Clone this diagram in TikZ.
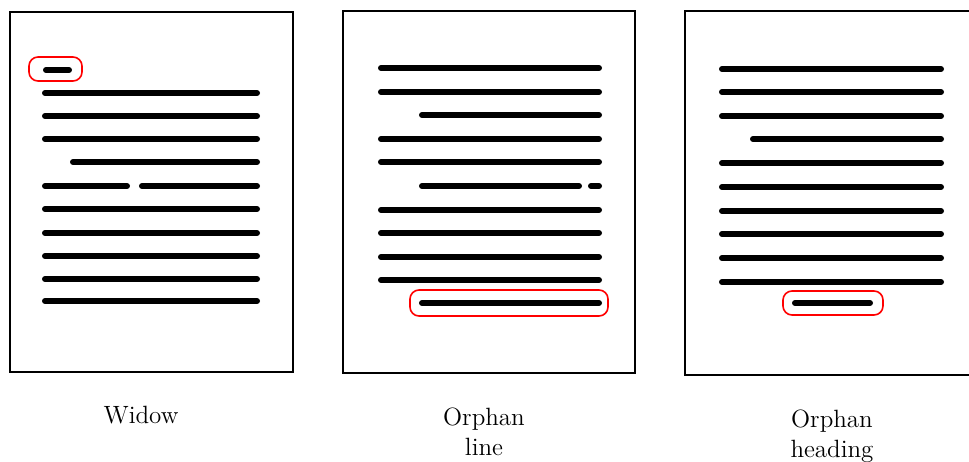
\documentclass[tikz,border=0pt]{standalone}
\usepackage{xcolor}
\usepackage{tikz}

\begin{document}
\begin{tikzpicture}[x=0.5pt, y=-0.5pt,
	pagina/.style={draw=black, line width=1pt},
	riga/.style={line width=3pt, line cap=round},
	evidenza/.style={draw=red, line width=0.8pt, rounded corners=4.5pt},
	didascalia/.style={font=\fontsize{12.5}{15}\selectfont, align=center, anchor=base, inner sep=0pt}]

	\useasboundingbox (0,0) rectangle (969,461);
	\clip (0,0) rectangle (969,461);

	% pagine
	\draw[pagina] (10,12) rectangle (293,372);
	\draw[pagina] (343,11) rectangle (635,373);
	\draw[pagina] (685,11) rectangle (990,375);

	% widow
	\draw[riga] (46,70) -- (69,70);
	\draw[evidenza] (29,57) rectangle (82,81);
	\draw[riga] (45,93) -- (257,93);
	\draw[riga] (45,116) -- (257,116);
	\draw[riga] (45,139) -- (257,139);
	\draw[riga] (73,162) -- (257,162);
	\draw[riga] (45,186) -- (127,186);
	\draw[riga] (142,186) -- (257,186);
	\draw[riga] (45,209) -- (257,209);
	\draw[riga] (45,233) -- (257,233);
	\draw[riga] (45,256) -- (257,256);
	\draw[riga] (45,279) -- (257,279);
	\draw[riga] (45,301) -- (257,301);

	% orphan line
	\draw[riga] (381,68) -- (599,68);
	\draw[riga] (381,92) -- (599,92);
	\draw[riga] (422,115) -- (599,115);
	\draw[riga] (381,139) -- (599,139);
	\draw[riga] (381,162) -- (599,162);
	\draw[riga] (422,186) -- (579,186);
	\draw[riga] (591,186) -- (599,186);
	\draw[riga] (381,210) -- (599,210);
	\draw[riga] (381,233) -- (599,233);
	\draw[riga] (381,257) -- (599,257);
	\draw[riga] (381,280) -- (599,280);
	\draw[riga] (422,303) -- (599,303);
	\draw[evidenza] (410,290) rectangle (608,316);

	% orphan heading
	\draw[riga] (722,69) -- (941,69);
	\draw[riga] (722,92) -- (941,92);
	\draw[riga] (722,116) -- (941,116);
	\draw[riga] (753,139) -- (941,139);
	\draw[riga] (722,163) -- (941,163);
	\draw[riga] (722,187) -- (941,187);
	\draw[riga] (722,211) -- (941,211);
	\draw[riga] (722,234) -- (941,234);
	\draw[riga] (722,258) -- (941,258);
	\draw[riga] (722,282) -- (941,282);
	\draw[riga] (795,303) -- (870,303);
	\draw[evidenza] (783,291) rectangle (883,315);

	% didascalie
	\node[didascalia] (widow) at (141,423) {Widow};
	\node[didascalia] (orphanline) at (484,455) {Orphan\\line};
	\node[didascalia] (orphanheading) at (832,457) {Orphan\\heading};
\end{tikzpicture}
\end{document}
